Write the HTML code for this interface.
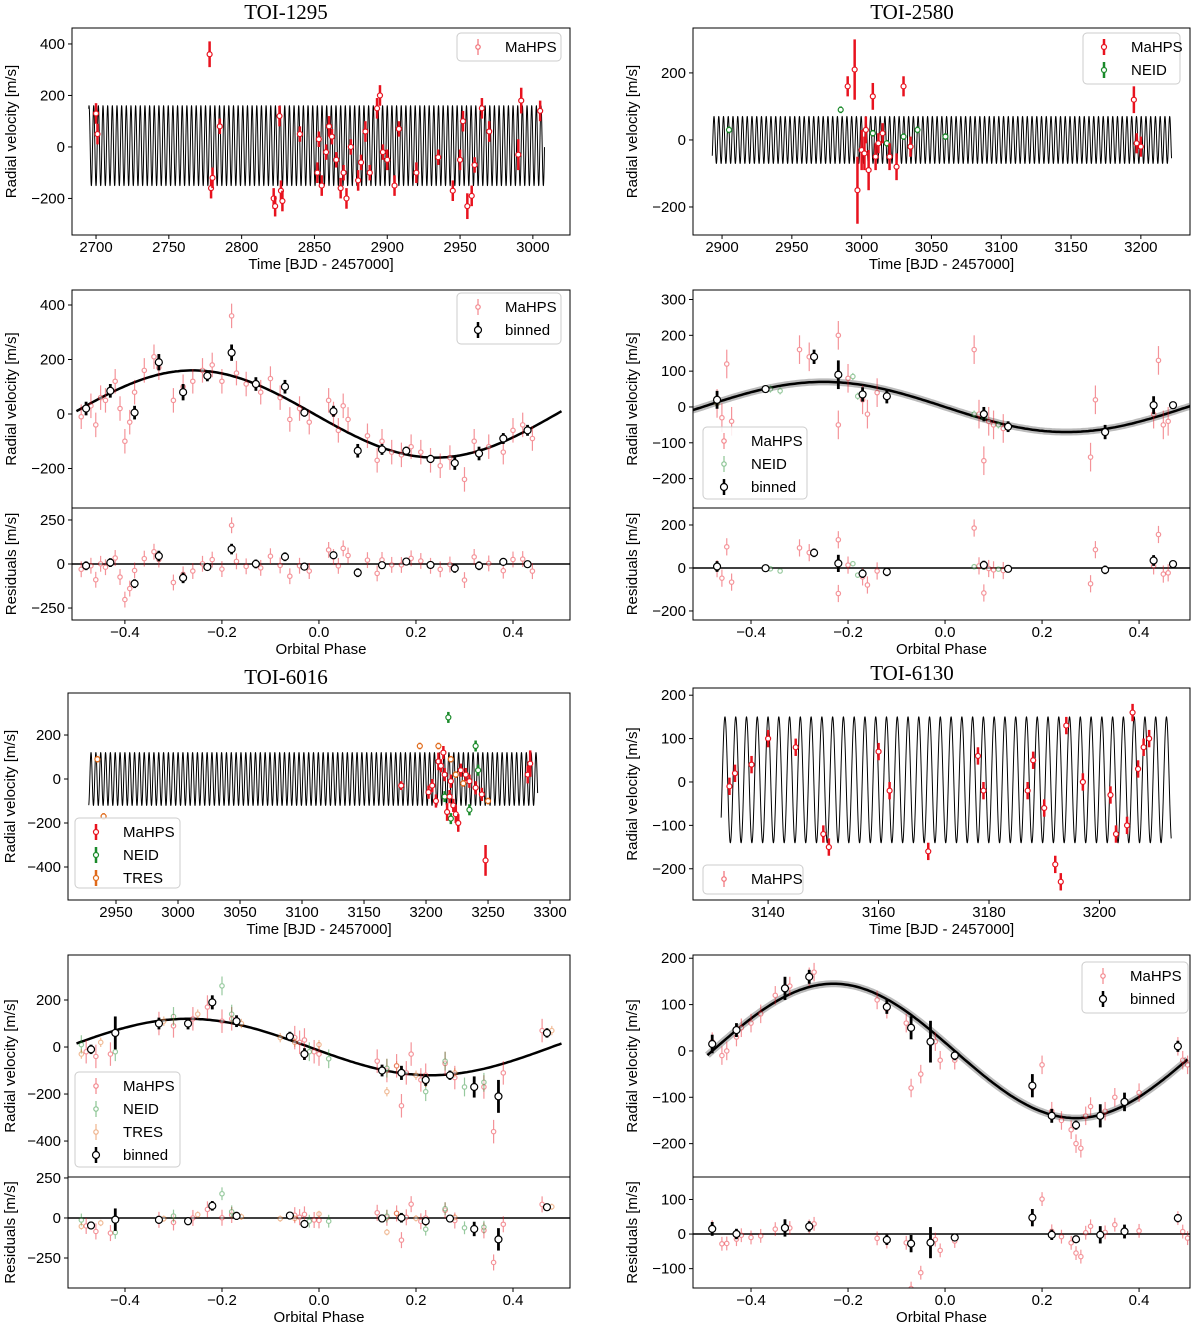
<!DOCTYPE html>
<html><head><meta charset="utf-8"><style>
body{margin:0;background:#fff;}
svg text{font-family:"Liberation Sans",sans-serif;}
svg text.ttl{font-family:"Liberation Serif",serif;}
</style></head><body>
<svg id="fig" width="1200" height="1327" viewBox="0 0 1200 1327" xmlns="http://www.w3.org/2000/svg"></svg>
<script>
// ===== DATA =====
const t1295_t=[2700,2701,2778,2779,2780,2785,2822,2823,2826,2827,2828,2840,2852,2853,2855,2858,2860,2862,2865,2868,2870,2872,2875,2880,2882,2885,2888,2893,2895,2897,2900,2905,2908,2920,2935,2945,2950,2952,2955,2958,2960,2965,2970,2990,2992,3005];
const t1295_rv=[130,50,360,-160,-120,80,-200,-230,120,-170,-210,50,-100,30,-150,-20,80,40,-50,-160,-100,-200,0,-130,-60,60,-100,150,200,-20,-50,-150,70,-100,-40,-170,-50,100,-230,-190,-70,150,60,-30,180,140];
const t1295_err=[40,40,50,40,40,30,40,40,40,40,40,30,40,30,40,30,40,30,30,40,30,40,30,40,30,40,30,40,40,30,40,40,30,40,30,40,40,40,50,40,30,40,40,60,50,40];
const p1295_ph=[-0.49,-0.47,-0.46,-0.45,-0.44,-0.42,-0.41,-0.40,-0.39,-0.38,-0.36,-0.34,-0.33,-0.30,-0.28,-0.26,-0.24,-0.22,-0.20,-0.18,-0.17,-0.15,-0.12,-0.10,-0.08,-0.06,-0.04,-0.02,0.02,0.03,0.04,0.05,0.06,0.10,0.12,0.13,0.15,0.17,0.19,0.21,0.23,0.25,0.27,0.30,0.32,0.35,0.38,0.40,0.42,0.44];
const p1295_rv=[-10,30,-40,60,50,120,20,-100,-30,80,160,210,170,50,100,120,160,180,120,360,150,110,80,130,60,-20,20,-30,50,0,-60,30,-20,-80,-170,-100,-140,-150,-120,-140,-170,-190,-160,-240,-100,-120,-140,-60,-40,-90];
const p1295_err=45;
const b1295_ph=[-0.48,-0.43,-0.38,-0.33,-0.28,-0.23,-0.18,-0.13,-0.07,-0.03,0.03,0.08,0.13,0.18,0.23,0.28,0.33,0.38,0.43];
const b1295_rv=[20,85,5,190,80,140,225,110,100,5,10,-135,-130,-135,-165,-180,-145,-90,-60];
const b1295_err=[25,25,25,30,30,20,30,25,25,15,20,25,20,15,15,25,25,20,20];
const K1295=160, C1295=0.01;

const t2580m_t=[2990,2995,2997,3000,3002,3003,3005,3008,3010,3012,3015,3020,3025,3030,3035,3195,3197,3200];
const t2580m_rv=[160,210,-150,-30,-40,30,-90,130,-50,-10,20,-50,-80,160,-20,120,-10,-20];
const t2580m_err=[30,90,100,60,50,40,60,40,40,30,30,40,40,30,30,40,30,30];
const t2580n_t=[2905,2985,3008,3018,3030,3035,3040,3060];
const t2580n_rv=[30,90,20,-10,10,-20,30,10];
const p2580m_ph=[-0.47,-0.46,-0.45,-0.44,-0.30,-0.28,-0.22,-0.22,-0.20,-0.17,-0.16,-0.14,0.06,0.07,0.08,0.09,0.10,0.12,0.30,0.31,0.43,0.44,0.45,0.46];
const p2580m_rv=[10,-30,120,-40,160,140,200,-50,80,20,-20,40,160,-20,-150,-40,-50,-60,-140,20,-20,130,-50,-40];
const p2580n_ph=[-0.47,-0.36,-0.34,-0.19,-0.18,0.06,0.08,0.11];
const p2580n_rv=[10,50,45,85,30,-20,-30,-50];
const b2580_ph=[-0.47,-0.37,-0.27,-0.22,-0.17,-0.12,0.08,0.13,0.33,0.43,0.47];
const b2580_rv=[20,50,140,90,35,30,-20,-55,-70,5,5];
const b2580_err=[25,5,20,40,20,20,20,15,20,25,8];
const K2580=70, C2580=0;

const t6016m_t=[3180,3202,3205,3208,3210,3212,3214,3215,3217,3219,3220,3222,3224,3226,3228,3232,3235,3240,3245,3248,3282,3284];
const t6016m_rv=[-30,-60,-30,-100,80,60,120,20,-150,-80,-10,-120,-160,-200,40,20,-10,-40,-70,-370,20,70];
const t6016m_err=[20,30,30,30,40,30,30,30,40,30,30,30,40,40,30,30,30,30,30,70,40,60];
const t6016n_t=[3215,3218,3220,3235,3240,3242];
const t6016n_rv=[-80,280,-180,-140,150,40];
const t6016r_t=[2935,2940,3195,3210,3220,3224,3230,3250];
const t6016r_rv=[90,-170,150,150,90,20,-20,-100];
const p6016m_ph=[-0.48,-0.46,-0.43,-0.33,-0.30,-0.26,-0.23,-0.20,-0.18,-0.05,-0.04,-0.03,-0.01,0.0,0.12,0.14,0.16,0.17,0.18,0.19,0.21,0.22,0.26,0.28,0.34,0.36,0.38,0.46];
const p6016m_rv=[-20,-40,-30,100,90,120,170,110,120,40,20,30,-20,-30,-60,-100,-80,-250,-110,-30,-140,-120,-70,-130,-170,-360,-110,70];
const p6016n_ph=[-0.49,-0.42,-0.30,-0.20,-0.18,-0.02,0.02,0.14,0.22,0.26,0.30,0.34];
const p6016n_rv=[10,-20,130,260,140,-20,-50,-90,-190,-60,-170,-150];
const p6016r_ph=[-0.49,-0.45,-0.32,-0.25,-0.16,-0.08,-0.05,0.00,0.14,0.16,0.20,0.22,0.28,0.48];
const p6016r_rv=[-30,20,110,140,100,40,20,10,-190,-80,-120,-150,-110,70];
const b6016_ph=[-0.47,-0.42,-0.33,-0.27,-0.22,-0.17,-0.06,-0.03,0.13,0.17,0.22,0.27,0.32,0.37,0.47];
const b6016_rv=[-10,60,100,100,190,110,45,-30,-100,-110,-140,-120,-170,-210,60];
const b6016_err=[20,70,25,25,30,25,20,25,25,30,25,20,45,70,20];
const K6016=120, C6016=0.02;

const t6130_t=[3133,3134,3137,3140,3145,3150,3151,3160,3162,3169,3178,3179,3187,3188,3190,3192,3193,3194,3197,3202,3203,3205,3206,3207,3208,3209];
const t6130_rv=[-10,20,40,100,80,-120,-150,70,-20,-160,60,-20,-20,50,-60,-190,-230,130,0,-30,-120,-100,160,30,80,100];
const p6130_ph=[-0.48,-0.46,-0.45,-0.43,-0.42,-0.40,-0.38,-0.35,-0.32,-0.28,-0.27,-0.14,-0.12,-0.08,-0.07,-0.05,-0.02,-0.01,0.02,0.18,0.20,0.22,0.24,0.26,0.27,0.28,0.29,0.30,0.33,0.35,0.40,0.48,0.49,0.50];
const p6130_rv=[20,-10,0,30,50,60,80,120,140,160,170,110,90,60,-80,-50,20,-20,-20,-80,-30,-130,-150,-170,-200,-210,-140,-120,-130,-100,-90,10,-20,-30];
const b6130_ph=[-0.48,-0.43,-0.33,-0.28,-0.12,-0.07,-0.03,0.02,0.18,0.22,0.27,0.32,0.37,0.48];
const b6130_rv=[15,45,135,160,95,50,20,-10,-75,-140,-160,-140,-110,10];
const b6130_err=[20,15,25,15,15,25,45,10,25,15,10,25,20,12];
const K6130=145, C6130=-0.02;

const tickX_phase=[-0.4,-0.2,0.0,0.2,0.4];

// ===== DRAWING =====
const NS="http://www.w3.org/2000/svg";
const svg=document.getElementById('fig');
function el(tag,attrs,parent){const e=document.createElementNS(NS,tag);for(const k in attrs)e.setAttribute(k,attrs[k]);(parent||svg).appendChild(e);return e;}
function fmt(v,dec){const s=dec?Math.abs(v).toFixed(dec):String(Math.abs(v));return (v<-1e-9?'\u2212':'')+s;}
function lin(d0,d1,r0,r1){return v=>r0+(v-d0)/(d1-d0)*(r1-r0);}
function model(K,C,ph){return -K*Math.sin(2*Math.PI*(ph+C));}

function axes(name,L,T,R,B,xd,yd,xt,yt,xlabel,ylabel,showX,xdec){
  const g=el('g',{});
  
  
  const sx=lin(xd[0],xd[1],L,R), sy=lin(yd[0],yd[1],B,T);
  if(showX){xt.forEach(v=>{const x=sx(v);el('line',{x1:x,x2:x,y1:B,y2:B+4,stroke:'#000'},g);
    const t=el('text',{x:x,y:B+17,'font-size':15,'text-anchor':'middle'},g);t.textContent=fmt(v,xdec);
    });}
  yt.forEach(v=>{const y=sy(v);el('line',{x1:L-4,x2:L,y1:y,y2:y,stroke:'#000'},g);
    const t=el('text',{x:L-7,y:y+5,'font-size':15,'text-anchor':'end'},g);t.textContent=fmt(v);
    });
  if(xlabel){const t=el('text',{x:(L+R)/2,y:B+34,'font-size':15,'text-anchor':'middle'},g);t.textContent=xlabel;
    }
  if(ylabel){const cx=Math.max(L-56,15),cy=(T+B)/2;const t=el('text',{x:cx,y:cy,'font-size':15,'text-anchor':'middle',transform:`rotate(-90 ${cx} ${cy})`},g);t.textContent=ylabel;
    }
  return {g,sx,sy,L,T,R,B};
}
function frame(a){const r=el('rect',{x:a.L,y:a.T,width:a.R-a.L,height:a.B-a.T,fill:'none',stroke:'#000','stroke-width':1},a.g);
  }
function clip(a,id){const c=el('clipPath',{id:id},a.g);el('rect',{x:a.L,y:a.T,width:a.R-a.L,height:a.B-a.T},c);
  const g=el('g',{'clip-path':`url(#${id})`},a.g);return g;}
function points(g,a,xs,ys,errs,color,opts,name){
  xs.forEach((xv,i)=>{const e=Array.isArray(errs)?errs[i]:errs;const x=a.sx(xv),y=a.sy(ys[i]);
    const pg=el('g',{opacity:opts.op||1},g);
    
    
    el('line',{x1:x,x2:x,y1:a.sy(ys[i]+e),y2:a.sy(ys[i]-e),stroke:color,'stroke-width':opts.lw},pg);
    el('circle',{cx:x,cy:y,r:opts.r,fill:'#fff',stroke:color,'stroke-width':opts.mw||1.2},pg);});
}
function tsModel(g,a,t0,t1,P,amp,off){let d='';for(let t=t0;t<=t1;t+=0.02*P/3){d+=(d?'L':'M')+a.sx(t).toFixed(2)+','+a.sy(off+amp*Math.sin(2*Math.PI*t/P)).toFixed(2);}
  const p=el('path',{d:d,fill:'none',stroke:'#000','stroke-width':1},g);}
function phModel(g,a,K,C,x0,x1,band){const pts=[];for(let ph=x0;ph<=x1+1e-9;ph+=0.005){pts.push([a.sx(ph),a.sy(model(K,C,ph))]);}
  const d=pts.map((p,i)=>(i?'L':'M')+p[0].toFixed(1)+','+p[1].toFixed(1)).join('');
  if(band){const b=el('path',{d:d,fill:'none',stroke:'#bbb','stroke-width':7},g);}
  const p=el('path',{d:d,fill:'none',stroke:'#000','stroke-width':2.5},g);}
function resid(g,a,ph,rv,errs,K,C,color,opts,name){points(g,a,ph,rv.map((v,i)=>v-model(K,C,ph[i])),errs,color,opts,name);}
function zero(g,a){const l=el('line',{x1:a.L,x2:a.R,y1:a.sy(0),y2:a.sy(0),stroke:'#000','stroke-width':1.5},g);}
function legend(name,x,y,w,h,entries){const g=el('g',{});
  el('rect',{x:x,y:y,width:w,height:h,rx:4,fill:'#fff','fill-opacity':0.85,stroke:'#ccc'},g);
  entries.forEach((e,i)=>{const cy=y+14+i*23,mx=x+21;const eg=el('g',{opacity:e.op||1},g);
    el('line',{x1:mx,x2:mx,y1:cy-8,y2:cy+8,stroke:e.c,'stroke-width':e.lw},eg);
    el('circle',{cx:mx,cy:cy,r:e.r,fill:'#fff',stroke:e.c,'stroke-width':1.2},eg);
    const t=el('text',{x:x+48,y:cy+5,'font-size':15},g);t.textContent=e.label;
    });}
function title(txt,x,y){const t=el('text',{x:x,y:y,'font-size':21,'text-anchor':'middle','class':'ttl'});t.textContent=txt;
  }

const RED='#e8121e',GRN='#1a8a2a',ORG='#e06a1a';
const TS={lw:2.5,r:2.5,mw:1.2};
const FA={lw:1.2,r:2.2,op:0.45};
const BN={lw:2.8,r:3.5,mw:1.2};
const E_M={c:RED,lw:FA.lw,r:FA.r,op:0.5},E_B={c:'#000',lw:2.5,r:3.5};

// ---- TOI-1295 ----
title('TOI-1295',286,19);
let a=axes('toi1295-time-axes',72,28,570,235,[2683.5,3025.5],[-342,462],[2700,2750,2800,2850,2900,2950,3000],[-200,0,200,400],'Time [BJD - 2457000]','Radial velocity [m/s]',true,0);
let g=clip(a,'c1');tsModel(g,a,2695,3008,3.2,155,5);points(g,a,t1295_t,t1295_rv,t1295_err,RED,TS,'mahps-point');frame(a);
legend('toi1295-time-legend',457,33,104,28,[{c:RED,lw:1.2,r:2.2,op:0.6,label:'MaHPS'}]);
a=axes('toi1295-phase-axes',72,290,570,508,[-0.509,0.5175],[-345,455],tickX_phase,[-200,0,200,400],null,'Radial velocity [m/s]',false);
g=clip(a,'c2');phModel(g,a,K1295,C1295,-0.5,0.5,false);points(g,a,p1295_ph,p1295_rv,p1295_err,RED,FA,'mahps-point');points(g,a,b1295_ph,b1295_rv,b1295_err,'#000',BN,'binned-point');frame(a);
legend('toi1295-phase-legend',457,293,104,51,[Object.assign({label:'MaHPS'},E_M),Object.assign({label:'binned'},E_B)]);
a=axes('toi1295-residual-axes',72,508,570,620,[-0.509,0.5175],[-318,318],tickX_phase,[-250,0,250],'Orbital Phase','Residuals [m/s]',true,1);
g=clip(a,'c3');zero(g,a);resid(g,a,p1295_ph,p1295_rv,p1295_err,K1295,C1295,RED,FA,'mahps-residual');resid(g,a,b1295_ph,b1295_rv,b1295_err,K1295,C1295,'#000',BN,'binned-residual');frame(a);

// ---- TOI-2580 ----
title('TOI-2580',912,19);
a=axes('toi2580-time-axes',693,28,1190,235,[2879.2,3235.2],[-283.6,334],[2900,2950,3000,3050,3100,3150,3200],[-200,0,200],'Time [BJD - 2457000]','Radial velocity [m/s]',true,0);
g=clip(a,'c4');tsModel(g,a,2893,3222,3.4,70,0);points(g,a,t2580n_t,t2580n_rv,10,GRN,TS,'neid-point');points(g,a,t2580m_t,t2580m_rv,t2580m_err,RED,TS,'mahps-point');frame(a);
legend('toi2580-time-legend',1083,33,97,51,[{c:RED,lw:2.5,r:2.5,label:'MaHPS'},{c:GRN,lw:2.5,r:2.5,label:'NEID'}]);
a=axes('toi2580-phase-axes',693,290,1190,508,[-0.5196,0.505],[-282,326.5],tickX_phase,[-200,-100,0,100,200,300],null,'Radial velocity [m/s]',false);
g=clip(a,'c5');phModel(g,a,K2580,C2580,-0.52,0.505,true);points(g,a,p2580m_ph,p2580m_rv,40,RED,FA,'mahps-point');points(g,a,p2580n_ph,p2580n_rv,10,GRN,FA,'neid-point');points(g,a,b2580_ph,b2580_rv,b2580_err,'#000',BN,'binned-point');frame(a);
legend('toi2580-phase-legend',703,427,104,72,[Object.assign({label:'MaHPS'},E_M),{c:GRN,lw:1.2,r:2.2,op:0.5,label:'NEID'},Object.assign({label:'binned'},E_B)]);
a=axes('toi2580-residual-axes',693,508,1190,620,[-0.5196,0.505],[-242,279],tickX_phase,[-200,0,200],'Orbital Phase','Residuals [m/s]',true,1);
g=clip(a,'c6');zero(g,a);resid(g,a,p2580m_ph,p2580m_rv,40,K2580,C2580,RED,FA,'mahps-residual');resid(g,a,p2580n_ph,p2580n_rv,10,K2580,C2580,GRN,FA,'neid-residual');resid(g,a,b2580_ph,b2580_rv,b2580_err,K2580,C2580,'#000',BN,'binned-residual');frame(a);

// ---- TOI-6016 ----
title('TOI-6016',286,684);
a=axes('toi6016-time-axes',68,693,570,900,[2911.3,3316.1],[-550,391],[2950,3000,3050,3100,3150,3200,3250,3300],[-400,-200,0,200],'Time [BJD - 2457000]','Radial velocity [m/s]',true,0);
g=clip(a,'c7');tsModel(g,a,2928,3290,3.9,120,0);points(g,a,t6016r_t,t6016r_rv,15,ORG,TS,'tres-point');points(g,a,t6016n_t,t6016n_rv,25,GRN,TS,'neid-point');points(g,a,t6016m_t,t6016m_rv,t6016m_err,RED,TS,'mahps-point');frame(a);
legend('toi6016-time-legend',75,818,105,70,[{c:RED,lw:2.5,r:2.5,label:'MaHPS'},{c:GRN,lw:2.5,r:2.5,label:'NEID'},{c:ORG,lw:2.5,r:2.5,label:'TRES'}]);
a=axes('toi6016-phase-axes',68,955,570,1177,[-0.5175,0.5175],[-553,391.5],tickX_phase,[-400,-200,0,200],null,'Radial velocity [m/s]',false);
g=clip(a,'c8');phModel(g,a,K6016,C6016,-0.5,0.5,false);points(g,a,p6016m_ph,p6016m_rv,50,RED,FA,'mahps-point');points(g,a,p6016n_ph,p6016n_rv,40,GRN,FA,'neid-point');points(g,a,p6016r_ph,p6016r_rv,20,ORG,FA,'tres-point');points(g,a,b6016_ph,b6016_rv,b6016_err,'#000',BN,'binned-point');frame(a);
legend('toi6016-phase-legend',75,1072,105,95,[Object.assign({label:'MaHPS'},E_M),{c:GRN,lw:1.2,r:2.2,op:0.5,label:'NEID'},{c:ORG,lw:1.2,r:2.2,op:0.5,label:'TRES'},Object.assign({label:'binned'},E_B)]);
a=axes('toi6016-residual-axes',68,1177,570,1288,[-0.5175,0.5175],[-437.5,256],tickX_phase,[-250,0,250],'Orbital Phase','Residuals [m/s]',true,1);
g=clip(a,'c9');zero(g,a);resid(g,a,p6016m_ph,p6016m_rv,50,K6016,C6016,RED,FA,'mahps-residual');resid(g,a,p6016n_ph,p6016n_rv,40,K6016,C6016,GRN,FA,'neid-residual');resid(g,a,p6016r_ph,p6016r_rv,20,K6016,C6016,ORG,FA,'tres-residual');resid(g,a,b6016_ph,b6016_rv,b6016_err,K6016,C6016,'#000',BN,'binned-residual');frame(a);

// ---- TOI-6130 ----
title('TOI-6130',912,680);
a=axes('toi6130-time-axes',693,688,1190,900,[3126.4,3216.4],[-272,216.6],[3140,3160,3180,3200],[-200,-100,0,100,200],'Time [BJD - 2457000]','Radial velocity [m/s]',true,0);
g=clip(a,'c10');tsModel(g,a,3131.5,3213,1.95,145,5);points(g,a,t6130_t,t6130_rv,20,RED,TS,'mahps-point');frame(a);
legend('toi6130-time-legend',703,865,100,29,[{c:RED,lw:1.2,r:2.2,op:0.6,label:'MaHPS'}]);
a=axes('toi6130-phase-axes',693,955,1190,1177,[-0.5196,0.505],[-272,207],tickX_phase,[-200,-100,0,100,200],null,'Radial velocity [m/s]',false);
g=clip(a,'c11');phModel(g,a,K6130,C6130,-0.49,0.5,true);points(g,a,p6130_ph,p6130_rv,20,RED,FA,'mahps-point');points(g,a,b6130_ph,b6130_rv,b6130_err,'#000',BN,'binned-point');frame(a);
legend('toi6130-phase-legend',1082,962,106,51,[Object.assign({label:'MaHPS'},E_M),Object.assign({label:'binned'},E_B)]);
a=axes('toi6130-residual-axes',693,1177,1190,1288,[-0.5196,0.505],[-156,165],tickX_phase,[-100,0,100],'Orbital Phase','Residuals [m/s]',true,1);
g=clip(a,'c12');zero(g,a);resid(g,a,p6130_ph,p6130_rv,20,K6130,C6130,RED,FA,'mahps-residual');resid(g,a,b6130_ph,b6130_rv,b6130_err,K6130,C6130,'#000',BN,'binned-residual');frame(a);
</script>
</body></html>
